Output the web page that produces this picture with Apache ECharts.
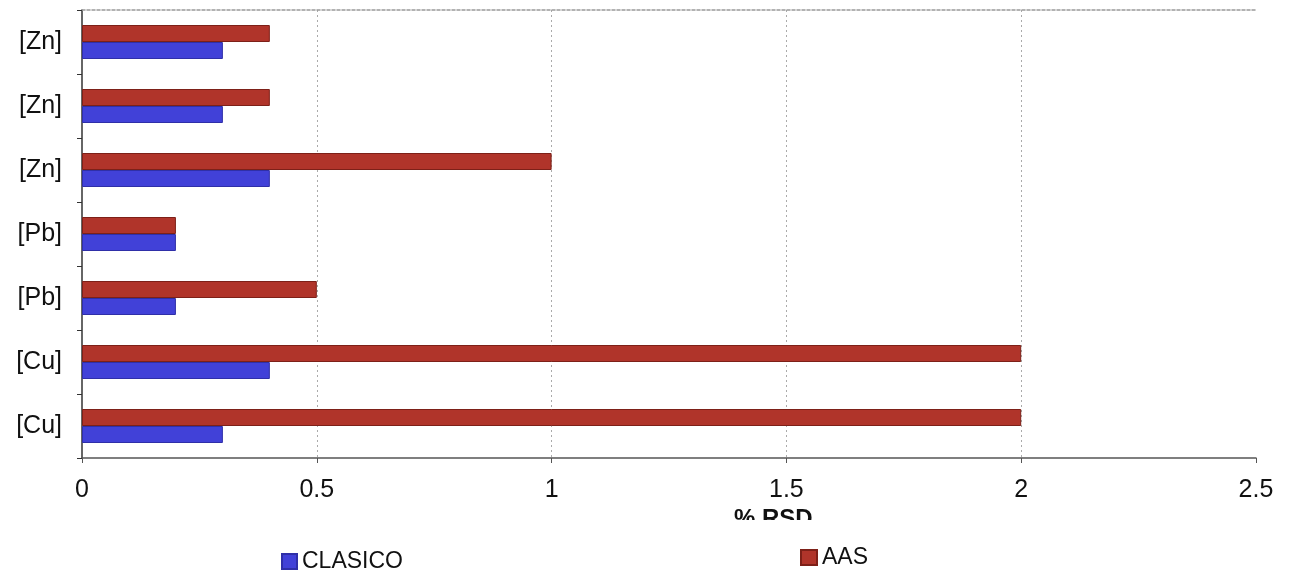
<!DOCTYPE html>
<html>
<head>
<meta charset="utf-8">
<script src="https://cdn.jsdelivr.net/npm/echarts@6/dist/echarts.min.js"></script>
<style>
  html, body { margin: 0; padding: 0; background: #fff; }
  #chart { width: 1289px; height: 571px; }
</style>
</head>
<body>
<div id="chart"></div>
<script>
// Samples, listed bottom to top on the category axis
const categories = ['[Cu]', '[Cu]', '[Pb]', '[Pb]', '[Zn]', '[Zn]', '[Zn]'];
const clasico = [0.3, 0.4, 0.2, 0.2, 0.4, 0.3, 0.3];
const aas = [2, 2, 0.5, 0.2, 1, 0.4, 0.4];
const seriesNames = ['CLASICO', 'AAS'];
const axisTitle = '% RSD';

const FONT = '"Liberation Sans", Arial, sans-serif';
const chart = echarts.init(document.getElementById('chart'), null, { renderer: 'canvas' });

chart.setOption({
  animation: false,
  backgroundColor: '#ffffff',
  grid: { left: 82, right: 33, top: 10, bottom: 113, containLabel: false },
  legend: [
    {
      data: [seriesNames[0]],
      left: 276, top: 550, padding: [0, 5],
      itemWidth: 15, itemHeight: 15, itemGap: 6,
      icon: 'rect',
      textStyle: { fontFamily: FONT, fontSize: 23, color: '#111', padding: [2, 0, 0, 0] }
    },
    {
      data: [seriesNames[1]],
      left: 795, top: 546, padding: [0, 5],
      itemWidth: 16, itemHeight: 15, itemGap: 4,
      icon: 'rect',
      textStyle: { fontFamily: FONT, fontSize: 23, color: '#111' }
    }
  ],
  xAxis: [
    {
      type: 'value', min: 0, max: 2.5, interval: 0.5,
      axisLine: { show: true, lineStyle: { color: '#555', width: 1.5 } },
      axisTick: { show: true, length: 5, lineStyle: { color: '#555' } },
      axisLabel: { fontFamily: FONT, fontSize: 25, color: '#111', margin: 20 },
      splitLine: { show: true, showMinLine: false, showMaxLine: false,
                   lineStyle: { color: '#aaa', type: [2, 3], width: 1 } }
    },
    {
      // dashed frame along the top of the plot
      type: 'value', min: 0, max: 2.5, position: 'top',
      axisLine: { show: true, lineStyle: { color: '#999', type: [3, 2], width: 1.5 } },
      axisTick: { show: false }, axisLabel: { show: false }, splitLine: { show: false }
    }
  ],
  yAxis: {
    type: 'category', data: categories,
    axisLine: { show: true, lineStyle: { color: '#333', width: 1.5 } },
    axisTick: { show: true, length: 5, lineStyle: { color: '#333' } },
    axisLabel: { fontFamily: FONT, fontSize: 25, color: '#111', margin: 20 },
    splitLine: { show: false }
  },
  series: [
    {
      name: seriesNames[1], type: 'bar', data: aas,
      barWidth: 17, barGap: '0%',
      itemStyle: { color: '#b0342a', borderColor: '#7d2018', borderWidth: 1 }
    },
    {
      name: seriesNames[0], type: 'bar', data: clasico,
      barWidth: 17, barGap: '0%',
      itemStyle: { color: '#4141d8', borderColor: '#2f2fa8', borderWidth: 1 }
    }
  ],
  graphic: [
    {
      type: 'text', left: 734, top: 507, z: 10,
      style: { text: axisTitle, fontFamily: FONT, fontSize: 24, fontWeight: 'bold', fill: '#111' }
    },
    {
      // the title's lower half is hidden behind a white strip
      type: 'rect', left: 700, top: 520, z: 20,
      shape: { width: 180, height: 22 },
      style: { fill: '#ffffff' }
    }
  ]
});
</script>
</body>
</html>
